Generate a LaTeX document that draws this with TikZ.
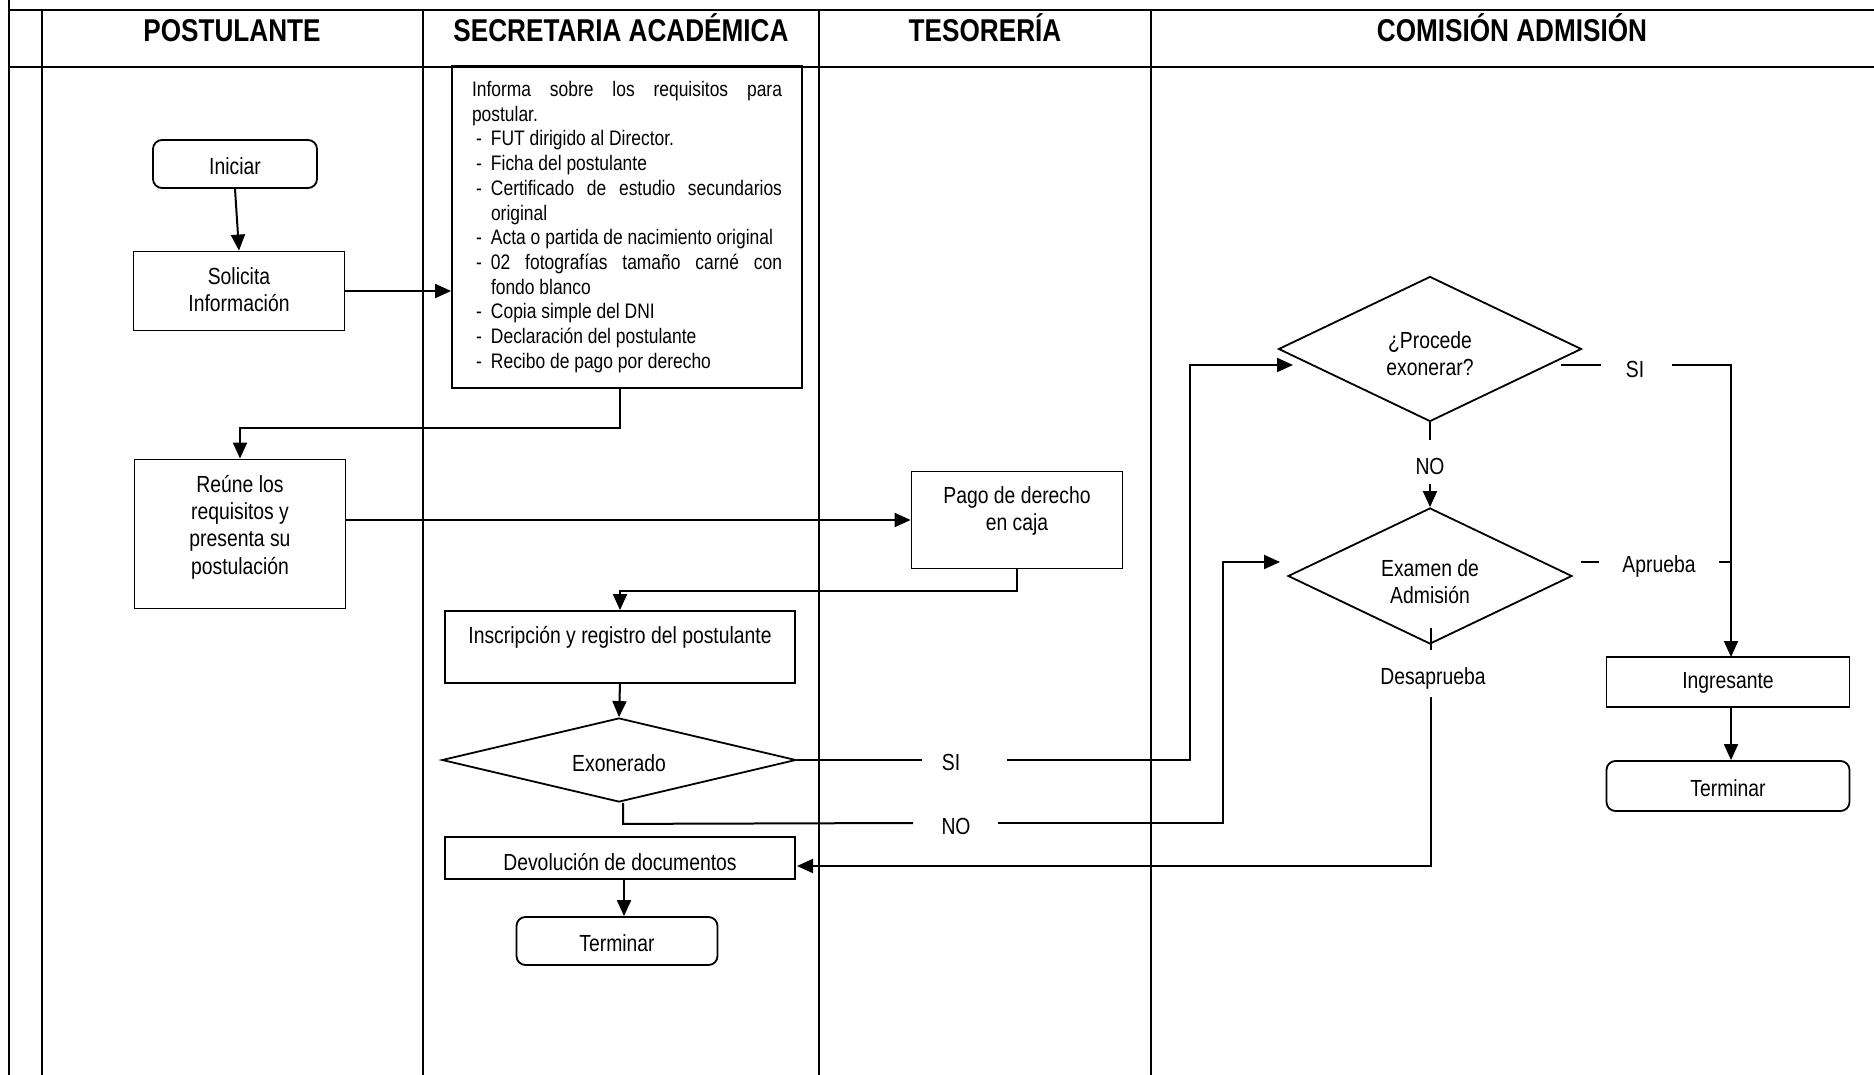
\documentclass[tikz,border=0pt]{standalone}
\usepackage{fontspec}
\setmainfont[FakeStretch=0.83]{Liberation Sans}
\usetikzlibrary{arrows.meta,shapes.geometric}
\newcommand\mynfont{\fontsize{23.3}{27.3}\selectfont}
\newcommand\mylfont{\fontsize{21}{24.7}\selectfont}
\newcommand\myhfont{\fontsize{31.5}{36}\selectfont\bfseries}
\newcommand\myitem[1]{\hspace*{4pt}\makebox[15pt][l]{-}#1}
\newcommand\myitemj[1]{\hspace*{4pt}\makebox[15pt][l]{-}\makebox[291pt][s]{#1}}
\newcommand\mycont[1]{\hspace*{19pt}#1}
\tikzset{
  lane/.style={line width=2.2pt},
  box/.style={draw, line width=1.8pt, inner sep=0pt, rectangle},
  rbox/.style={box, rounded corners=9pt},
  dia/.style={draw, line width=1.8pt, diamond, inner sep=0pt},
  txt/.style={font=\mynfont, align=center, inner sep=0pt},
  hdr/.style={font=\myhfont, inner sep=0pt, anchor=base},
  conn/.style={line width=2pt},
  arr/.style={conn, -{Triangle[length=16pt,width=14pt]}},
}
\begin{document}
\begin{tikzpicture}[x=1pt,y=-1pt]
\useasboundingbox (0,0) rectangle (1874,1075);
\fill[white] (0,0) rectangle (1874,1075);
% lanes
\draw[lane] (9,0) -- (9,1075);
\draw[lane] (42,10) -- (42,1075);
\draw[lane] (9,10) -- (1874,10);
\draw[lane] (9,67) -- (1874,67);
\draw[lane] (423,10) -- (423,1075);
\draw[lane] (819,10) -- (819,1075);
\draw[lane] (1151,10) -- (1151,1075);
% headers
\node[hdr] (h1) at (232,42) {POSTULANTE};
\node[hdr] (h2) at (621,42) {SECRETARIA ACADÉMICA};
\node[hdr] (h3) at (985,42) {TESORERÍA};
\node[hdr] (h4) at (1512,42) {COMISIÓN ADMISIÓN};
% shapes
\node[rbox, minimum width=164pt, minimum height=48pt] (ini) at (235,164) {};
\node[txt] (ini-t) at (235,166) {Iniciar};
\node[box, minimum width=211pt, minimum height=79pt] (sol) at (239,291) {};
\node[txt] (sol-t) at (239,290) {Solicita\\Información};
\node[box, minimum width=350pt, minimum height=322pt, font=\mylfont] (inf) at (627,227) {\parbox{310pt}{%
\makebox[310pt][s]{Informa sobre los requisitos para}\\
postular.\\
\myitem{FUT dirigido al Director.}\\
\myitem{Ficha del postulante}\\
\myitemj{Certificado de estudio secundarios}\\
\mycont{original}\\
\myitem{Acta o partida de nacimiento original}\\
\myitemj{02 fotografías tamaño carné con}\\
\mycont{fondo blanco}\\
\myitem{Copia simple del DNI}\\
\myitem{Declaración del postulante}\\
\myitem{Recibo de pago por derecho}}};
\node[box, minimum width=211pt, minimum height=149pt] (reu) at (240,534) {};
\node[txt] (reu-t) at (240,527) {Reúne los\\requisitos y\\presenta su\\postulación};
\node[box, minimum width=211pt, minimum height=97pt] (pago) at (1017,520) {};
\node[txt] (pago-t) at (1017,511) {Pago de derecho\\en caja};
\node[box, minimum width=350pt, minimum height=72pt] (ins) at (620,647) {};
\node[txt] (ins-t) at (620,637) {Inscripción y registro del postulante};
\node[dia, minimum width=354pt, minimum height=84pt] (exo) at (619,760) {};
\node[txt] (exo-t) at (619,763) {Exonerado};
\node[box, minimum width=350pt, minimum height=42pt] (dev) at (620,858) {};
\node[txt] (dev-t) at (620,862) {Devolución de documentos};
\node[rbox, minimum width=201pt, minimum height=48pt] (ter1) at (617,941) {};
\node[txt] (ter1-t) at (617,943) {Terminar};
\node[dia, minimum width=303pt, minimum height=145pt] (proc) at (1430,349) {};
\node[txt] (proc-t) at (1430,354) {¿Procede\\exonerar?};
\node[dia, minimum width=284pt, minimum height=136pt] (exam) at (1430,576) {};
\node[txt] (exam-t) at (1430,582) {Examen de\\Admisión};
\node[box, minimum width=243pt, minimum height=50pt] (ing) at (1728,682) {};
\node[txt] (ing-t) at (1728,683) {Ingresante};
\node[rbox, minimum width=243pt, minimum height=50pt] (ter2) at (1728,786) {};
\node[txt] (ter2-t) at (1728,788) {Terminar};
% connectors
\draw[arr] (ini.south) -- (sol.north);
\draw[arr] (sol.east) -- (sol.east -| inf.west);
\draw[arr] (inf.south -| ins.north) -- ++(0,39) -| (reu.north);
\draw[arr] (reu.east |- pago.west) -- (pago.west);
\draw[arr] (pago.south) -- ++(0,22) -| (ins.north);
\draw[arr] (ins.south) -- (exo.north);
\draw[arr] ([xshift=4pt]dev.south) -- ([xshift=4pt]dev.south |- ter1.north);
% SI from Exonerado
\coordinate (siA) at (922,760);
\coordinate (siB) at (1007,760);
\coordinate (k1) at (1190,365);
\coordinate (procin) at (1293,365);
\draw[conn] (exo.east) -- (siA);
\node[txt] (si1) at (951,762) {SI};
\draw[arr] (siB) -| (k1) -- (procin);
% NO from Exonerado
\coordinate (noA) at (913,823);
\coordinate (noB) at (998,823);
\coordinate (k2) at (1223,562);
\coordinate (examin) at (1280,562);
\draw[conn] ([xshift=4pt]exo.south) -- ++(0,21) -- (noA);
\node[txt] (no1) at (956,826) {NO};
\draw[arr] (noB) -| (k2) -- (examin);
% NO from Procede
\coordinate (noC) at (1430,484);
\draw[conn] (proc.south) -- ++(0,18);
\node[txt] (no2) at (1430,466) {NO};
\draw[arr] (noC) -- (exam.north);
% SI from Procede
\coordinate (siC) at (1561,365);
\coordinate (siD) at (1601,365);
\coordinate (siE) at (1672,365);
\coordinate (ingin) at (1731,657);
\draw[conn] (siC) -- (siD);
\node[txt] (si2) at (1635,369) {SI};
\draw[arr] (siE) -| (ingin);
% Aprueba
\coordinate (apA) at (1581,562);
\coordinate (apB) at (1599,562);
\coordinate (apC) at (1719,562);
\coordinate (apD) at (1731,562);
\draw[conn] (apA) -- (apB);
\node[txt] (apr) at (1659,566) {Aprueba};
\draw[conn] (apC) -- (apD);
% Desaprueba
\coordinate (deA) at (1431,628);
\coordinate (deB) at (1431,650);
\coordinate (deC) at (1431,697);
\coordinate (devin) at (797,866);
\draw[conn] (deA) -- (deB);
\node[txt] (des) at (1433,678) {Desaprueba};
\draw[arr] (deC) |- (devin);
% Ingresante to Terminar
\draw[arr] ([xshift=3pt]ing.south) -- ([xshift=3pt]ing.south |- ter2.north);
\end{tikzpicture}
\end{document}
